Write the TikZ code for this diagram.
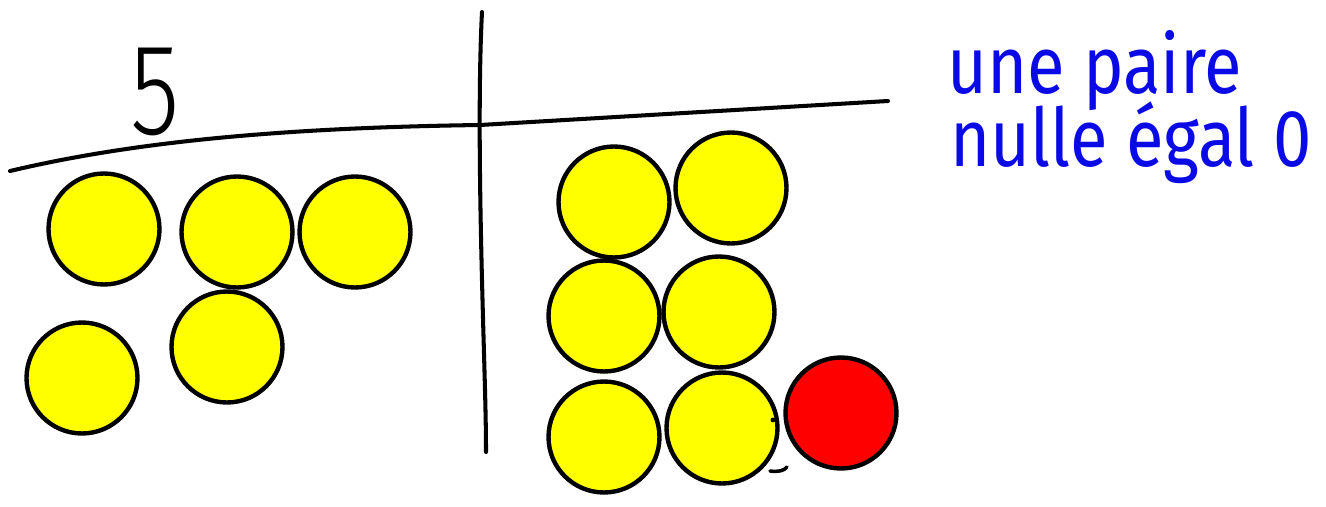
\documentclass[tikz,border=0pt]{standalone}
\usepackage{fontspec}
\setmainfont{Fira Sans}
\newfontfamily\thinfont{Fira Sans Light}
\definecolor{inkblue}{RGB}{10,10,230}
\definecolor{coinyellow}{RGB}{255,255,0}
\definecolor{coinred}{RGB}{255,0,0}
\begin{document}
\begin{tikzpicture}[x=0.02cm,y=0.02cm,
  coin/.style={circle,draw=black,line width=2.5pt,minimum size=2.22cm,inner sep=0pt},
  ycoin/.style={coin,fill=coinyellow},
  rcoin/.style={coin,fill=coinred},
  stroke/.style={line width=2.3pt,line cap=round,line join=round},
  hand/.style={inner sep=0pt,anchor=base west,text=inkblue,font=\fontsize{46}{50}\selectfont}]
\useasboundingbox (0,0) rectangle (1326,-507);
% grid lines
\coordinate (hl) at (10,-171);
\coordinate (hm) at (480,-125);
\coordinate (hr) at (888,-101);
\coordinate (vt) at (482,-12);
\coordinate (vb) at (486,-452);
\draw[stroke] (hl) .. controls (120,-145) and (260,-128) .. (hm) -- (hr);
\draw[stroke] (vt) .. controls (478,-90) and (480,-200) .. (482,-280) .. controls (484,-360) and (486,-410) .. (vb);
% label 5
\node[inner sep=0pt,font=\thinfont\fontsize{74}{80}\selectfont] (five) at (155,-92) {\scalebox{0.78}[1]{5}};
% left coins
\node[ycoin] (a1) at (104,-229) {};
\node[ycoin] (a2) at (237,-232) {};
\node[ycoin] (a3) at (355,-232) {};
\node[ycoin] (a4) at (82,-378) {};
\node[ycoin] (a5) at (227,-347) {};
% right coins
\node[ycoin] (b1) at (614,-202) {};
\node[ycoin] (b2) at (731,-188) {};
\node[ycoin] (b3) at (604,-316) {};
\node[ycoin] (b4) at (719,-312) {};
\node[ycoin] (b5) at (604,-437) {};
\node[ycoin] (b6) at (722,-428) {};
\node[rcoin] (r1) at (841,-413) {};
% small marks
\fill (773,-420) circle (2.4);
\coordinate (d1) at (770,-471);
\coordinate (d2) at (787,-467);
\draw[line width=2pt,line cap=round] (d1) .. controls (778,-472) and (784,-471) .. (d2);
% handwritten note
\node[hand] (t1) at (947,-93) {\scalebox{0.85}[1]{une paire}};
\node[hand] (t2) at (950,-166) {\scalebox{0.85}[1]{nulle égal 0}};
\end{tikzpicture}
\end{document}
